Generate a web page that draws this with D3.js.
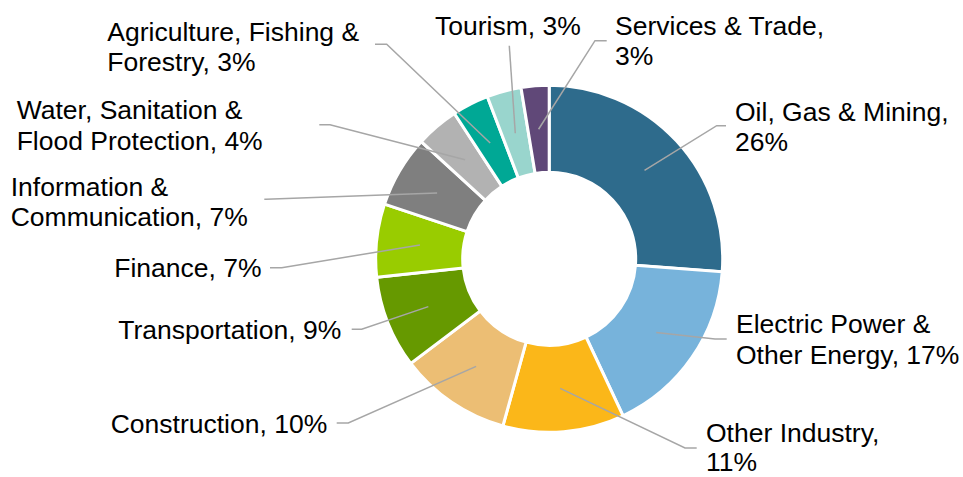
<!DOCTYPE html>
<html>
<head>
<meta charset="utf-8">
<script src="https://cdn.jsdelivr.net/npm/d3@7"></script>
<style>
  html, body { margin: 0; padding: 0; background: #fff; }
  svg { display: block; }
</style>
</head>
<body>
<svg id="chart" width="963" height="477"></svg>
<script>
// ---- data ----
const categories = [
  "Oil, Gas & Mining",
  "Electric Power & Other Energy",
  "Other Industry",
  "Construction",
  "Transportation",
  "Finance",
  "Information & Communication",
  "Water, Sanitation & Flood Protection",
  "Agriculture, Fishing & Forestry",
  "Tourism",
  "Services & Trade"
];
const values = [26.2, 16.8, 11.3, 10.4, 8.6, 6.8, 6.7, 4.0, 3.4, 3.2, 2.6];
// label text lines (category part), percent appended from values
const labelLines = [
  ["Oil, Gas & Mining,", "{p}"],
  ["Electric Power &", "Other Energy, {p}"],
  ["Other Industry,", "{p}"],
  ["Construction, {p}"],
  ["Transportation, {p}"],
  ["Finance, {p}"],
  ["Information &", "Communication, {p}"],
  ["Water, Sanitation &", "Flood Protection, {p}"],
  ["Agriculture, Fishing &", "Forestry, {p}"],
  ["Tourism, {p}"],
  ["Services & Trade,", "{p}"]
];
const colors = ["#2E6B8C", "#77B3DB", "#FBB719", "#ECBE74", "#669900", "#99CC00",
                "#7F7F7F", "#B2B2B2", "#00A895", "#99D5CD", "#604878"];

// ---- layout (label placement, not data) ----
const labelLayout = [
  {x: 735,   y: 120.7, lx: 726,   ly: 125.7, ex: 716.7},
  {x: 736,   y: 333.3, lx: 726.7, ly: 339,   ex: 715},
  {x: 706,   y: 442,   lx: 696.7, ly: 448,   ex: 685, lh: 29},
  {x: 110.7, y: 432.7, lx: 336.7, ly: 423,   ex: 348.3},
  {x: 118.3, y: 339.3, lx: 351.7, ly: 329.3, ex: 361.7},
  {x: 114.3, y: 277.3, lx: 270,   ly: 267.7, ex: 281.7},
  {x: 10.7,  y: 195.5, lx: 264.3, ly: 199.3, ex: 266},
  {x: 16.7,  y: 119,   lx: 319.3, ly: 124.7, ex: 330},
  {x: 107.3, y: 40.7,  lx: 375,   ly: 44.3,  ex: 386.7},
  {x: 435,   y: 34.8,  lx: 509.3, ly: 45.7,  ex: 509.3},
  {x: 615,   y: 34.8,  lx: 606.7, ly: 40.7,  ex: 595}
];

const cx = 549.2, cy = 258.8;
const rOuter = 173.5, rInner = 86.5;
const fontSize = 26.5, lineH = 30.5;

const svg = d3.select("#chart");
const total = d3.sum(values);
const data = categories.map((c, i) => ({name: c, value: values[i], i}));

const pie = d3.pie().value(d => d.value).sort(null).startAngle(0).endAngle(2 * Math.PI);
const arc = d3.arc().innerRadius(rInner).outerRadius(rOuter);
const arcs = pie(data);

const g = svg.append("g").attr("transform", `translate(${cx},${cy})`);
g.selectAll("path.slice")
  .data(arcs)
  .join("path")
  .attr("class", "slice")
  .attr("d", arc)
  .attr("fill", d => colors[d.data.i])
  .attr("stroke", "#fff")
  .attr("stroke-width", 3)
  .attr("stroke-linejoin", "miter");

// leader lines
const leaders = svg.append("g");
arcs.forEach((a, k) => {
  const L = labelLayout[k];
  const c = arc.centroid(a);
  const px = cx + c[0], py = cy + c[1];
  leaders.append("polyline")
    .attr("points", `${L.lx},${L.ly} ${L.ex},${L.ly} ${px},${py}`)
    .attr("fill", "none")
    .attr("stroke", "#A6A6A6")
    .attr("stroke-width", 1.5);
});

// labels
const labels = svg.append("g")
  .attr("font-family", "'Liberation Sans', Arial, sans-serif")
  .attr("font-size", fontSize)
  .attr("fill", "#000");
arcs.forEach((a, k) => {
  const L = labelLayout[k];
  const pct = Math.round(a.data.value / total * 100) + "%";
  const t = labels.append("text").attr("x", L.x).attr("y", L.y);
  labelLines[k].forEach((ln, j) => {
    t.append("tspan")
      .attr("x", L.x)
      .attr("dy", j === 0 ? 0 : (L.lh || lineH))
      .text(ln.replace("{p}", pct));
  });
});
</script>
</body>
</html>
